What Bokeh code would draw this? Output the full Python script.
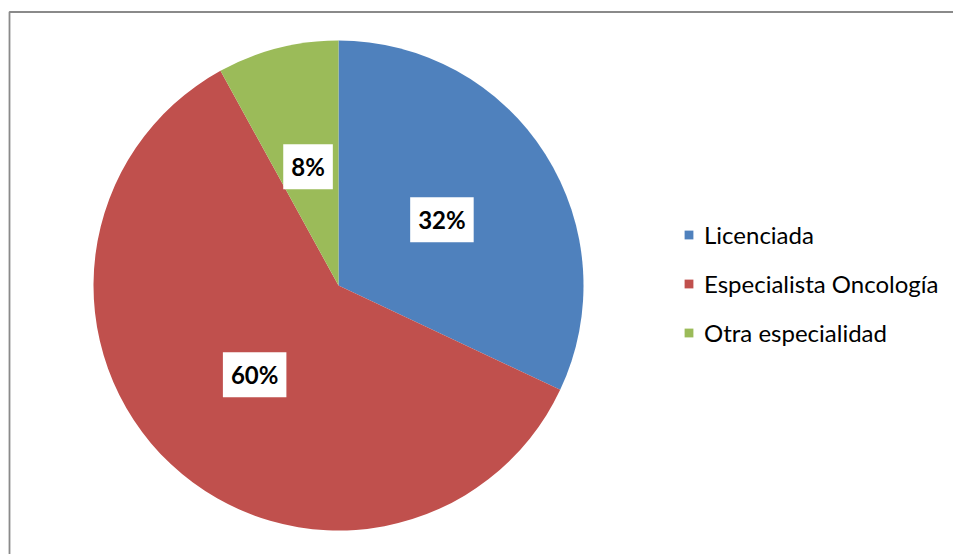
import math
from bokeh.plotting import figure
from bokeh.models import ColumnDataSource, BoxAnnotation, Range1d
from bokeh.core.properties import value
from bokeh.embed import file_html
from bokeh.resources import INLINE

categories = ["Licenciada", "Especialista Oncología", "Otra especialidad"]
values = [32, 60, 8]
pct_labels = ["32%", "60%", "8%"]
colors = ["#4F81BD", "#C0504D", "#9BBB59"]

W, H = 953, 554
cx, cy, R = 338, 554 - 285, 245

total = sum(values)
starts, ends, lx, ly = [], [], [], []
cum = 0.0
for v in values:
    a0 = math.pi / 2 - 2 * math.pi * cum / total
    cum += v
    a1 = math.pi / 2 - 2 * math.pi * cum / total
    starts.append(a0)
    ends.append(a1)
    mid = (a0 + a1) / 2
    lx.append(cx + 0.5 * R * math.cos(mid))
    ly.append(cy + 0.5 * R * math.sin(mid))

src = ColumnDataSource(dict(category=categories, value=values, start=starts, end=ends,
                            color=colors, label=pct_labels, lx=lx, ly=ly))

p = figure(width=W, height=H, output_backend="svg", toolbar_location=None,
           x_range=Range1d(0, W), y_range=Range1d(0, H),
           x_axis_type=None, y_axis_type=None,
           min_border=0, min_border_left=0, min_border_right=0,
           min_border_top=0, min_border_bottom=0)
p.grid.visible = False
p.outline_line_color = None
p.background_fill_color = "white"
p.border_fill_color = "white"

# chart-area border (only top and left edges fall inside the window)
p.add_layout(BoxAnnotation(left=9, right=W + 30, top=H - 11.5, bottom=-30,
                           fill_alpha=0, line_color="#8a8a8a", line_alpha=1.0,
                           line_width=1.8, level="underlay"))

p.wedge(x=cx, y=cy, radius=R, start_angle="start", end_angle="end", direction="clock",
        fill_color="color", line_color=None, source=src, legend_field="category")

p.text(x="lx", y="ly", text="label", source=src, text_align="center",
       text_baseline="middle", text_font=value("Lato"), text_font_style="bold",
       text_font_size="24px", text_color="black",
       background_fill_color="white", padding=8)

lg = p.legend[0]
lg.location = (683, 207)
lg.background_fill_alpha = 0
lg.border_line_color = None
lg.padding = 0
lg.margin = 0
lg.spacing = 20
lg.label_height = 28
lg.glyph_width = 11
lg.glyph_height = 11
lg.label_standoff = 10
lg.label_text_font = "Lato"
lg.label_text_font_size = "24px"
lg.label_text_color = "black"

open("out.html", "w").write(file_html(p, INLINE))
